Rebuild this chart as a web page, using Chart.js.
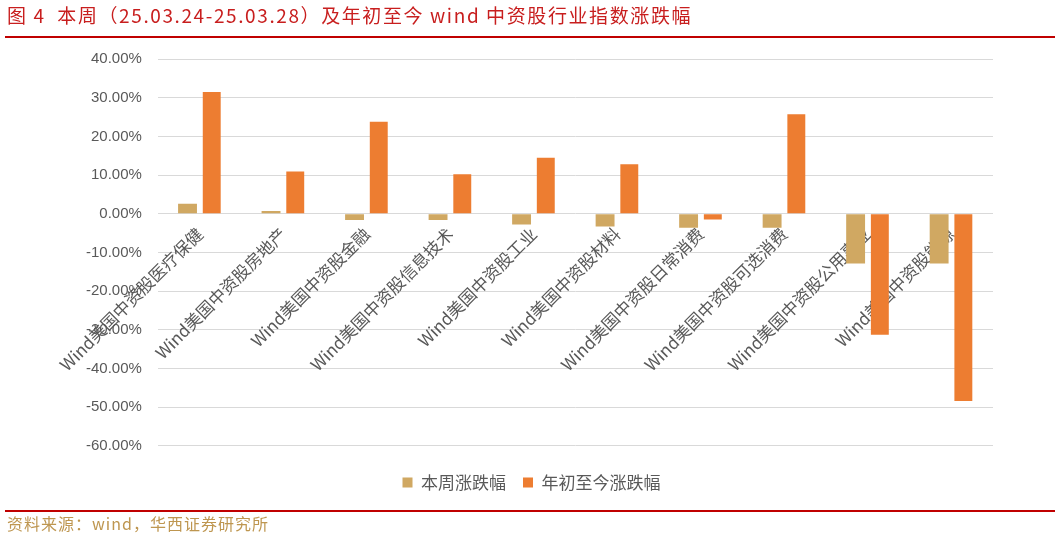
<!DOCTYPE html>
<html>
<head>
<meta charset="utf-8">
<script src="https://cdn.jsdelivr.net/npm/chart.js@4.4.1/dist/chart.umd.min.js"></script>
<style>
  html, body { margin: 0; padding: 0; background: #fff; }
  #wrap { position: relative; width: 1060px; height: 537px; overflow: hidden; }
  #chart { position: absolute; left: 0; top: 0; }
  .title { position: absolute; left: 7px; top: 1px; font: 19px "Noto Sans CJK SC"; color: #C81E1E; letter-spacing: 1.6px; white-space: nowrap; }
  .line { position: absolute; background: #C00000; }
  .source { position: absolute; left: 7px; top: 511px; font: 16px "Noto Sans CJK SC"; color: #BE9650; letter-spacing: 1px; white-space: nowrap; }
</style>
</head>
<body>
<div id="wrap">
  <canvas id="chart" width="1060" height="537"></canvas>
  <div class="title">图 4&nbsp;&nbsp;本周（25.03.24-25.03.28）及年初至今 wind 中资股行业指数涨跌幅</div>
  <div class="line" style="left:5px; top:36px; width:1050px; height:2px;"></div>
  <div class="line" style="left:5px; top:510px; width:1050px; height:2px;"></div>
  <div class="source">资料来源：wind，华西证券研究所</div>
</div>
<script>
const categories = [
    'Wind美国中资股医疗保健', 'Wind美国中资股房地产', 'Wind美国中资股金融',
    'Wind美国中资股信息技术', 'Wind美国中资股工业', 'Wind美国中资股材料',
    'Wind美国中资股日常消费', 'Wind美国中资股可选消费', 'Wind美国中资股公用事业',
    'Wind美国中资股能源'
];
const weekChange = [2.6, 0.7, -1.6, -1.6, -2.8, -3.3, -3.6, -3.6, -12.9, -12.9];
const ytdChange = [31.5, 10.9, 23.8, 10.2, 14.5, 12.8, -1.5, 25.7, -31.3, -48.4];
const seriesNames = ['本周涨跌幅', '年初至今涨跌幅'];

const gray = '#595959';
const ctx = document.getElementById('chart').getContext('2d');

new Chart(ctx, {
    type: 'bar',
    data: {
        labels: categories,
        datasets: [{
            label: seriesNames[0],
            data: weekChange,
            backgroundColor: '#D0A862',
            categoryPercentage: 0.58,
            barPercentage: 0.78
        }, {
            label: seriesNames[1],
            data: ytdChange,
            backgroundColor: '#ED7D31',
            categoryPercentage: 0.58,
            barPercentage: 0.74
        }]
    },
    options: {
        responsive: false,
        animation: false,
        layout: { padding: { top: 59, left: 70, right: 67, bottom: 36 } },
        scales: {
            x: {
                position: { y: 0 },
                grid: { display: false, drawTicks: false },
                border: { display: false },
                ticks: {
                    minRotation: 45,
                    maxRotation: 45,
                    padding: 10,
                    color: gray,
                    font: { family: 'Noto Sans CJK SC', size: 17 }
                }
            },
            y: {
                min: -60,
                max: 40,
                grid: { color: '#D9D9D9', lineWidth: 1, drawTicks: false },
                border: { display: false },
                ticks: {
                    stepSize: 10,
                    padding: 16,
                    color: gray,
                    font: { family: 'Liberation Sans', size: 15 },
                    callback: v => v.toFixed(2) + '%'
                }
            }
        },
        plugins: {
            legend: {
                position: 'bottom',
                title: { display: true, text: '', font: { size: 1 }, padding: { top: 10, bottom: 0 } },
                labels: {
                    boxWidth: 10,
                    boxHeight: 10,
                    padding: 17,
                    color: gray,
                    font: { family: 'Noto Sans CJK SC', size: 17 }
                }
            },
            tooltip: { enabled: false }
        }
    }
});
</script>
</body>
</html>
